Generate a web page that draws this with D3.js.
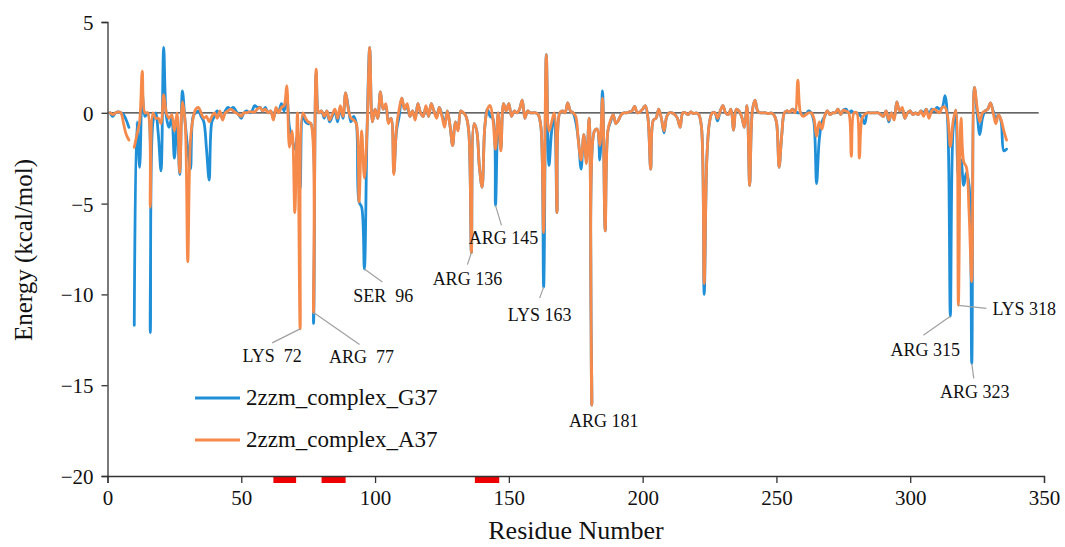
<!DOCTYPE html>
<html>
<head>
<meta charset="utf-8">
<script src="https://cdn.jsdelivr.net/npm/d3@7"></script>
<style>
  html, body { margin: 0; padding: 0; background: #fff; }
  svg { display: block; font-family: "Liberation Serif", "DejaVu Serif", serif; }
  svg text { font-family: "Liberation Serif", "DejaVu Serif", serif; }
</style>
</head>
<body>
<svg id="chart" width="1065" height="547"></svg>
<script>
// ---------------- DATA ----------------
const residues = d3.range(1, 337);

// 2zzm_complex_G37 (null = missing residue)
const g37 = [
  0, -0.2, 0, 0.05, 0, -0.1, -0.4, -0.8, null, -11.7,
  -0.5, -3.0, 1.0, -0.2, 0, -12.1, -0.5, 0, -1.2, -3.2,
  3.6, -0.2, -0.8, -0.3, -2.5, -0.5, -3.4, 1.2, -0.5, -2.0,
  -3.1, -0.2, 0, 0.1, -0.2, -0.5, -2.0, -3.7, -0.5, -0.2,
  0.1, -0.1, -0.3, 0.1, 0.3, 0.2, 0.3, 0.1, -0.1, -0.3,
  0, 0.1, 0, 0.1, 0.4, 0.3, 0.3, 0.1, 0.3, 0,
  0.1, -0.3, 0.2, 0.1, 0.5, 0.1, 0.8, -0.8, -1.5, -2.0,
  -1.2, -4.2, -0.2, -0.5, -0.6, -0.6, -11.6, 2.2, 0, 0.1,
  -0.3, 0.1, -0.5, -0.2, 0.1, -0.5, 0.3, -0.3, 1.1, 0.3,
  -0.5, -0.2, -0.6, -4.9, -5.2, -8.6, -1.0, 3.6, -0.5, 0.2,
  -0.3, 1.15, 0.2, 0.4, -0.5, -0.3, -3.3, -1.0, -0.2, 0.8,
  0.2, 0.3, -0.2, 0.1, -0.3, 0.5, 0, -0.2, 0.3, -0.2,
  0.5, 0.1, -0.2, 0.3, -0.1, -0.6, 0.1, -0.7, -1.8, -0.5,
  -0.9, 0.1, 0, -0.2, -1.0, -7.7, -0.6, -1.0, -3.0, -4.1,
  -0.8, 0.2, -0.2, -0.3, -5.1, 0, -2.0, 0.5, 0.1, 0.5,
  -0.2, 0.1, 0, 0.2, 0.7, -0.3, 0.1, 0, 0, 0,
  -0.1, -0.8, -9.6, 3.2, -2.9, -1.0, -0.2, -5.5, 0, 0.1,
  0, 0.55, 0.1, 0, -0.5, -1.5, -3.1, -1.2, -2.6, -0.3,
  -16.1, -1.0, -0.9, -2.6, 1.2, -6.5, -1.0, -0.5, -0.1, -0.6,
  -0.4, -0.1, 0, 0, 0.05, 0.1, 0.35, 0, 0.05, 0.2,
  0.4, -0.3, -3.1, -0.4, -0.3, 0.2, -0.3, -1.1, -0.2, 0,
  0, -0.1, -0.3, -0.8, 0, 0, -0.1, 0.05, -0.05, 0,
  -0.1, -0.8, -10.0, -2.5, -0.5, 0, 0, -0.45, 0.1, 0.4,
  0, -0.1, 0.2, -0.95, 0.2, 0.1, -0.2, -0.8, 0.4, -4.0,
  0.1, 0.7, 0.1, 0, 0, 0, -0.05, 0, -0.1, -0.5,
  -3.0, -1.2, 0, 0.1, 0.05, 0.2, 0.1, 0, 0, -0.1,
  -0.1, 0.1, 0, -0.5, -3.9, -1.5, -0.5, -0.2, 0.1, -0.1,
  0, 0, 0.2, -0.1, 0.15, 0.2, 0, 0.1, 0, 0,
  -0.1, -0.3, -0.6, 0, 0, 0, 0, 0, -0.1, -0.2,
  0.1, -0.5, 0, -0.3, 0.6, 0.1, 0.2, -0.3, 0, 0.1,
  -0.1, 0, -0.1, 0.1, 0, 0.2, -0.1, 0.2, 0.1, 0.3,
  0.2, 0.3, 0.95, -0.5, -11.2, -1.0, 0.15, -3.5, -2.6, -4.0,
  -3.3, -4.0, -13.8, 1.4, 0, -1.2, -0.3, 0.1, 0.2, 0.55,
  0.1, -0.3, -0.1, -0.5, -2.1, -2.0
];

// 2zzm_complex_A37
const a37 = [
  0, -0.1, 0, 0.05, 0, -0.6, -1.2, -1.5, null, -1.9,
  -1.2, -0.5, 2.3, 0, 0, -5.2, 0, -0.3, -0.3, -0.6,
  1.0, 0, -0.3, -0.1, -1.0, 0, -3.3, 0.6, -0.5, -8.2,
  -1.5, -0.3, 0.2, 0.3, 0, -0.3, -0.2, -0.5, -0.2, 0,
  -0.3, 0.1, -0.4, 0, 0.1, 0.2, 0.1, 0, -0.1, -0.2,
  0, 0, 0.05, 0.05, 0.05, 0.2, 0.3, 0.1, 0.2, 0,
  0.1, -0.4, 0.3, 0, 0.3, 0.4, 1.5, -1.9, -1.0, -5.5,
  0, -11.9, 0, -0.3, -0.5, -0.6, -11.0, 2.4, 0, 0.1,
  -0.2, 0.1, -0.4, -0.1, 0.2, -0.3, 0.4, -0.2, 1.1, 0.2,
  -0.3, -0.4, -0.6, -4.9, -1.0, -3.6, -1.0, 3.6, -0.5, 0.2,
  -0.3, 1.15, 0.2, 0.5, -0.6, -0.3, -3.4, -0.8, 0.2, 0.8,
  0.2, 0.5, -0.2, 0.1, -0.4, 0.5, 0, -0.2, 0.4, -0.2,
  0.5, 0.1, -0.3, 0.3, -0.2, -0.8, 0.1, -0.7, -1.8, -0.5,
  -1.0, 0.1, 0, -0.2, -1.0, -7.7, -0.6, -1.0, -3.0, -4.1,
  -0.8, 0.2, 0.4, -0.3, -2.0, 0, -2.1, 0.5, 0.1, 0.5,
  -0.2, 0.1, 0, 0.2, 0.7, -0.3, 0.1, 0, 0, 0,
  -0.1, -0.8, -6.6, 3.2, -1.0, -0.5, 0, -5.5, 0, 0.1,
  0, 0.55, 0.1, 0, -0.2, -1.6, -2.6, -1.2, -2.8, -0.3,
  -16.1, -1.0, -0.9, -1.8, 0.8, -6.5, -1.0, -0.4, -0.1, -0.6,
  -0.4, -0.1, 0, 0, 0.05, 0.1, 0.35, 0, 0.05, 0.2,
  0.4, -0.3, -3.1, -0.4, -0.3, 0.2, -0.3, -1.0, -0.2, 0,
  0, -0.1, -0.3, -0.8, 0, 0, -0.1, 0.05, -0.05, 0,
  -0.1, -0.8, -9.4, -2.5, -0.5, 0, 0, -0.3, 0.1, 0.4,
  0, -0.1, 0.2, -0.95, 0.2, 0.1, -0.2, -0.8, 0.4, -4.0,
  0.1, 0.7, 0.1, 0, 0, 0, -0.05, 0, -0.1, -0.5,
  -3.0, -1.2, 0, 0.1, 0.05, 0.2, 0, 1.8, 0, -0.2,
  -0.1, 0, 0, -0.3, -1.3, -0.5, -0.9, -0.2, 0.1, -0.1,
  0, 0, 0.2, -0.1, 0.15, 0.1, 0, -2.4, 0, 0,
  -2.5, -0.3, -0.1, 0, 0, 0, 0, 0, -0.1, -0.2,
  0.1, -0.4, 0, -0.4, 0.6, 0.1, 0.3, -0.3, 0, 0.1,
  -0.1, 0, -0.1, 0.1, -0.2, 0.2, -0.3, 0.1, 0.2, 0.1,
  0, 0.3, 0.3, -0.2, -1.85, -0.5, 0.15, -10.6, -0.3, -2.7,
  -3.0, -5.5, -9.3, 1.4, 0.3, -0.5, 0, 0.1, 0.2, 0.55,
  0, -0.6, -0.1, -0.4, -1.0, -1.5
];

const seriesNames = ["2zzm_complex_G37", "2zzm_complex_A37"];
const seriesColors = ["#1f8fd8", "#f58a4b"];

const xTicks = [0, 50, 100, 150, 200, 250, 300, 350];
const yTicks = [5, 0, -5, -10, -15, -20];

// residue ranges marked in red under the x axis
const regionStart = [62, 80, 137.3];
const regionEnd   = [70.5, 89, 146.4];

// annotated residues: label, residue, series index
const annoText    = ["LYS  72", "ARG  77", "SER  96", "ARG 136", "ARG 145", "LYS 163", "ARG 181", "ARG 315", "LYS 318", "ARG 323"];
const annoResidue = [72, 77, 96, 136, 145, 163, 181, 315, 318, 323];
const annoSeries  = [1, 1, 0, 1, 0, 0, 0, 0, 1, 0];

// ---------------- LAYOUT ----------------
const annoLayout = [ // [lineDx, lineDy, textDx, textDy, anchor]
  [-28, 14, -28, 33, "middle"],
  [46, 32, 48, 50, "middle"],
  [18, 13, 19, 33, "middle"],
  [-4, 12, -4, 32, "middle"],
  [6, 20, 8, 39, "middle"],
  [-4, 11, -4, 34, "middle"],
  [0, 0, 12, 22, "middle"],
  [-27, 19, -25, 40, "middle"],
  [28, 3, 34, 10, "start"],
  [2, 15, 3, 35, "middle"]
];

const FONT = "'Liberation Serif', 'DejaVu Serif', serif";
const svg = d3.select("#chart");
const x = d3.scaleLinear().domain([0, 350]).range([107.5, 1044]);
const y = d3.scaleLinear().domain([-20, 5]).range([476, 22]);

// red regions
svg.append("g").selectAll("rect")
  .data(regionStart.map((s, i) => [s, regionEnd[i]]))
  .join("rect")
  .attr("x", d => x(d[0])).attr("width", d => x(d[1]) - x(d[0]))
  .attr("y", 476).attr("height", 7)
  .attr("fill", "#ee0000");

// axes
const fmt = d => (d < 0 ? "\u2212" + Math.abs(d) : String(d));
const gx = svg.append("g").attr("transform", "translate(0,476)")
  .call(d3.axisBottom(x).tickValues(xTicks).tickSize(7).tickPadding(7).tickFormat(fmt));
const gy = svg.append("g").attr("transform", "translate(107.5,0)")
  .call(d3.axisLeft(y).tickValues(yTicks).tickSize(6).tickPadding(8).tickFormat(fmt));
[gx, gy].forEach(g => {
  g.attr("font-family", FONT).attr("font-size", 21);
  g.select(".domain").attr("stroke", "#333").attr("stroke-width", 1.3);
  g.selectAll(".tick line").attr("stroke", "#333").attr("stroke-width", 1.3);
  g.selectAll(".tick text").attr("fill", "#111").style("font-size", "21px")
    .style("font-family", FONT);
});
gy.selectAll(".tick text").attr("dy", "0.36em");

// zero line
svg.append("line")
  .attr("x1", x(0)).attr("x2", x(348))
  .attr("y1", y(0)).attr("y2", y(0))
  .attr("stroke", "#333").attr("stroke-width", 1.3);

// series lines
const line = d3.line()
  .defined(d => d[1] !== null)
  .x(d => x(d[0])).y(d => y(d[1]))
  .curve(d3.curveCatmullRom.alpha(0.5));

const allSeries = [g37, a37];
allSeries.forEach((vals, i) => {
  svg.append("path")
    .datum(residues.map((r, k) => [r, vals[k]]))
    .attr("fill", "none")
    .attr("stroke", seriesColors[i])
    .attr("stroke-width", 2.8)
    .attr("stroke-linejoin", "round")
    .attr("stroke-linecap", "round")
    .attr("d", line);
});

// annotations
annoText.forEach((t, i) => {
  const r = annoResidue[i];
  const v = allSeries[annoSeries[i]][r - 1];
  const ax = x(r), ay = y(v);
  const L = annoLayout[i];
  if (L[0] !== 0 || L[1] !== 0) {
    svg.append("line")
      .attr("x1", ax).attr("y1", ay)
      .attr("x2", ax + L[0]).attr("y2", ay + L[1])
      .attr("stroke", "#a0a0a0").attr("stroke-width", 1.2);
  }
  svg.append("text")
    .attr("x", ax + L[2]).attr("y", ay + L[3])
    .attr("text-anchor", L[4])
    .style("white-space", "pre")
    .style("font-size", "18px")
    .attr("fill", "#111")
    .text(t);
});

// legend
seriesNames.forEach((n, i) => {
  const ly = 398 + i * 42;
  svg.append("line")
    .attr("x1", 195).attr("x2", 240).attr("y1", ly).attr("y2", ly)
    .attr("stroke", seriesColors[i]).attr("stroke-width", 3);
  svg.append("text")
    .attr("x", 246).attr("y", ly + 7)
    .style("font-size", "23px").attr("fill", "#111")
    .text(n);
});

// axis titles
svg.append("text")
  .attr("transform", "translate(32,250) rotate(-90)")
  .attr("text-anchor", "middle")
  .style("font-size", "25px").attr("fill", "#111")
  .text("Energy (kcal/mol)");
svg.append("text")
  .attr("x", 576).attr("y", 539)
  .attr("text-anchor", "middle")
  .style("font-size", "26px").attr("fill", "#111")
  .text("Residue Number");
</script>
</body>
</html>
